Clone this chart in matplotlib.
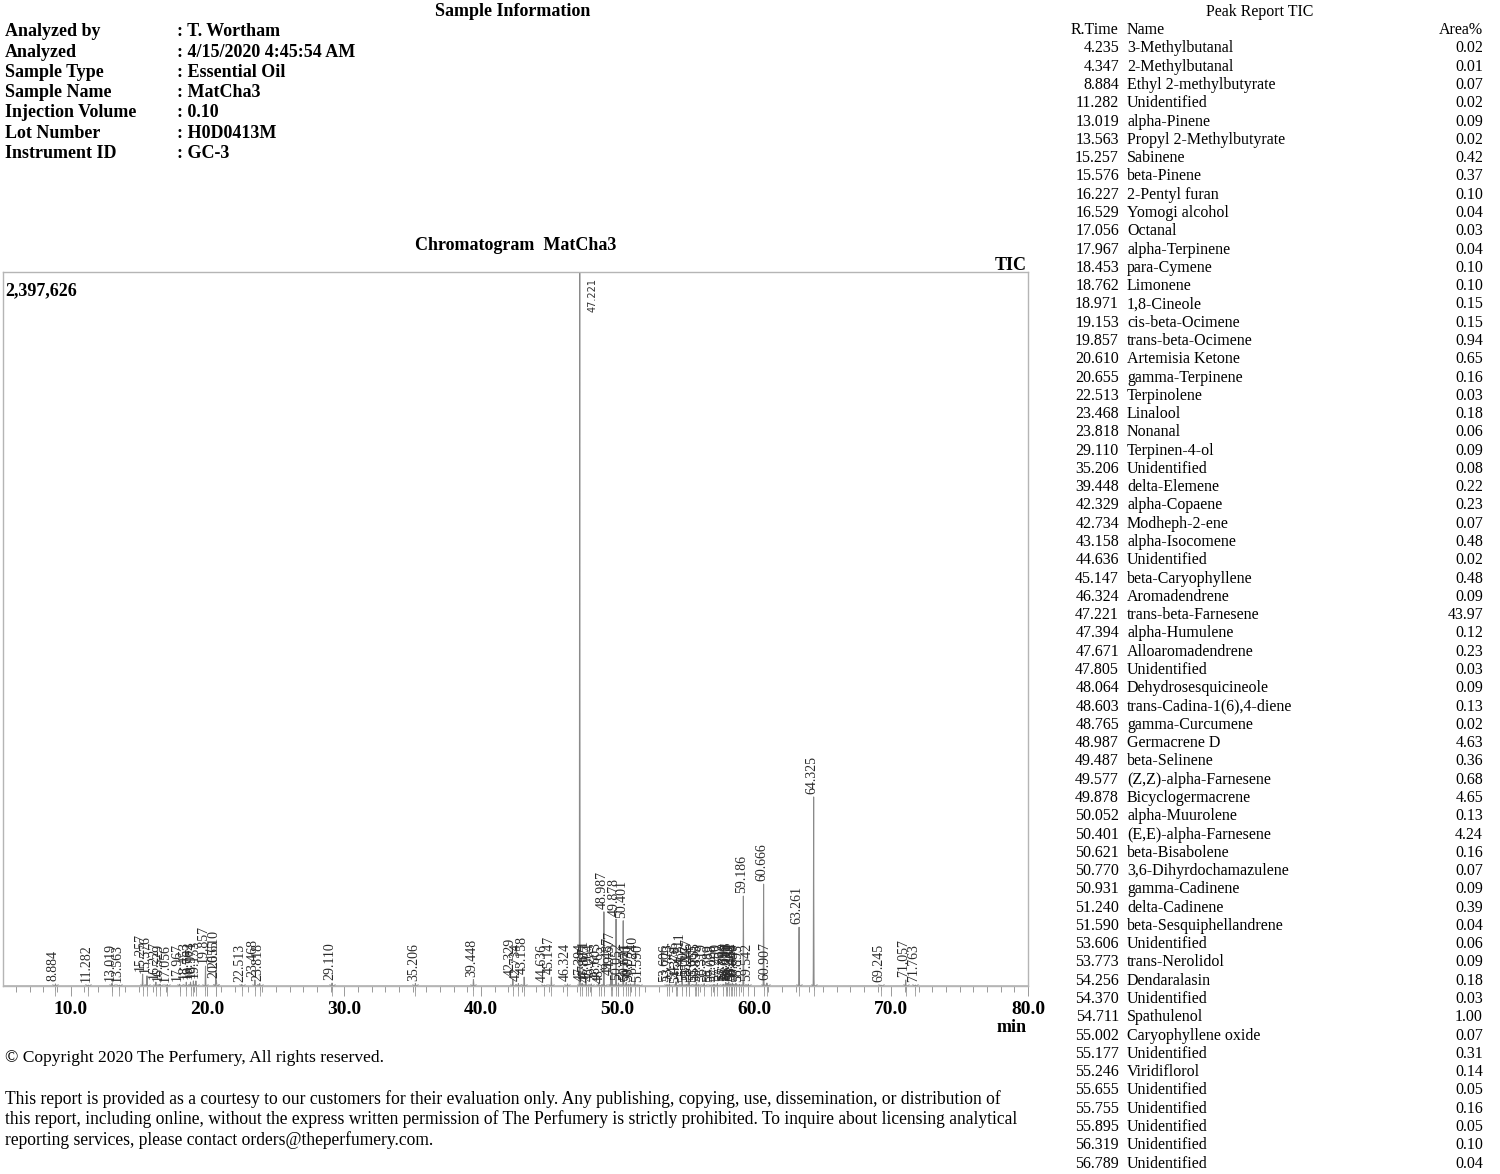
import numpy as np
import matplotlib
matplotlib.use("Agg")
import matplotlib.pyplot as plt

plt.rcParams['font.family'] = ['Liberation Serif', 'DejaVu Serif']

# ---------------- data ----------------
info_labels = ["Analyzed by", "Analyzed", "Sample Type", "Sample Name",
               "Injection Volume", "Lot Number", "Instrument ID"]
info_values = [": T. Wortham", ": 4/15/2020 4:45:54 AM", ": Essential Oil", ": MatCha3",
               ": 0.10", ": H0D0413M", ": GC-3"]

table_rt = ["4.235", "4.347", "8.884", "11.282", "13.019", "13.563", "15.257", "15.576",
            "16.227", "16.529", "17.056", "17.967", "18.453", "18.762", "18.971", "19.153",
            "19.857", "20.610", "20.655", "22.513", "23.468", "23.818", "29.110", "35.206",
            "39.448", "42.329", "42.734", "43.158", "44.636", "45.147", "46.324", "47.221",
            "47.394", "47.671", "47.805", "48.064", "48.603", "48.765", "48.987", "49.487",
            "49.577", "49.878", "50.052", "50.401", "50.621", "50.770", "50.931", "51.240",
            "51.590", "53.606", "53.773", "54.256", "54.370", "54.711", "55.002", "55.177",
            "55.246", "55.655", "55.755", "55.895", "56.319", "56.789"]
table_names = ["3-Methylbutanal", "2-Methylbutanal", "Ethyl 2-methylbutyrate", "Unidentified",
               "alpha-Pinene", "Propyl 2-Methylbutyrate", "Sabinene", "beta-Pinene",
               "2-Pentyl furan", "Yomogi alcohol", "Octanal", "alpha-Terpinene",
               "para-Cymene", "Limonene", "1,8-Cineole", "cis-beta-Ocimene",
               "trans-beta-Ocimene", "Artemisia Ketone", "gamma-Terpinene", "Terpinolene",
               "Linalool", "Nonanal", "Terpinen-4-ol", "Unidentified",
               "delta-Elemene", "alpha-Copaene", "Modheph-2-ene", "alpha-Isocomene",
               "Unidentified", "beta-Caryophyllene", "Aromadendrene", "trans-beta-Farnesene",
               "alpha-Humulene", "Alloaromadendrene", "Unidentified", "Dehydrosesquicineole",
               "trans-Cadina-1(6),4-diene", "gamma-Curcumene", "Germacrene D", "beta-Selinene",
               "(Z,Z)-alpha-Farnesene", "Bicyclogermacrene", "alpha-Muurolene", "(E,E)-alpha-Farnesene",
               "beta-Bisabolene", "3,6-Dihyrdochamazulene", "gamma-Cadinene", "delta-Cadinene",
               "beta-Sesquiphellandrene", "Unidentified", "trans-Nerolidol", "Dendaralasin",
               "Unidentified", "Spathulenol", "Caryophyllene oxide", "Unidentified",
               "Viridiflorol", "Unidentified", "Unidentified", "Unidentified",
               "Unidentified", "Unidentified"]
table_area = ["0.02", "0.01", "0.07", "0.02", "0.09", "0.02", "0.42", "0.37",
              "0.10", "0.04", "0.03", "0.04", "0.10", "0.10", "0.15", "0.15",
              "0.94", "0.65", "0.16", "0.03", "0.18", "0.06", "0.09", "0.08",
              "0.22", "0.23", "0.07", "0.48", "0.02", "0.48", "0.09", "43.97",
              "0.12", "0.23", "0.03", "0.09", "0.13", "0.02", "4.63", "0.36",
              "0.68", "4.65", "0.13", "4.24", "0.16", "0.07", "0.09", "0.39",
              "0.04", "0.06", "0.09", "0.18", "0.03", "1.00", "0.07", "0.31",
              "0.14", "0.05", "0.16", "0.05", "0.10", "0.04"]

# chromatogram peaks: retention time (min) and apex height (counts)
peak_rt = [8.884, 11.282, 13.019, 13.563, 15.257, 15.576, 16.227, 16.529, 17.056, 17.967,
           18.453, 18.762, 18.971, 19.153, 19.857, 20.610, 20.655, 22.513, 23.468, 23.818,
           29.110, 35.206, 39.448, 42.329, 42.734, 43.158, 44.636, 45.147, 46.324, 47.221,
           47.394, 47.671, 47.805, 48.064, 48.603, 48.765, 48.987, 49.487, 49.577, 49.878,
           50.052, 50.401, 50.621, 50.770, 50.931, 51.240, 51.590, 53.606, 53.773, 54.256,
           54.370, 54.711, 55.002, 55.177, 55.246, 55.655, 55.755, 55.895, 56.319, 56.789,
           57.028, 57.290, 57.702, 57.899, 58.010, 58.115, 58.251, 58.382, 58.468, 58.640,
           58.893, 59.186, 59.542, 60.666, 60.907, 63.261, 64.325, 69.245, 71.057, 71.763]
peak_height = [7000, 3000, 9000, 3000, 40000, 34000, 13000, 6000, 5000, 6000,
               13000, 13000, 17000, 17000, 67000, 52000, 17000, 5000, 20000, 8000,
               10000, 9000, 22000, 24000, 8000, 30000, 3000, 30000, 7000, 2600000,
               9000, 17000, 3000, 7000, 10000, 2000, 250000, 27000, 48000, 225000,
               10000, 220000, 12000, 5000, 7000, 30000, 3000, 4000, 7000, 14000,
               2000, 45000, 5000, 24000, 11000, 4000, 12000, 4000, 8000, 3000,
               5000, 8000, 6000, 12000, 9000, 14000, 7000, 10000, 6000, 9000,
               5000, 302000, 6000, 342000, 10000, 198000, 637000, 3000, 20000, 3000]
peak_label = ["%.3f" % r for r in peak_rt]

y_max = 2397626
x_min, x_max = 5.05, 80.0

# ---------------- figure ----------------
W, H = 1500, 1174
fig = plt.figure(figsize=(W / 100, H / 100), dpi=100)


def ftext(x, y, s, **kw):
    fig.text(x / W, 1 - y / H, s, **kw)


# header block
ftext(513, 12, "Sample Information", ha="center", va="center", fontsize=13, fontweight="bold")
for i, (lab, val) in enumerate(zip(info_labels, info_values)):
    y = 32 + i * 20.2
    ftext(5, y, lab, ha="left", va="center", fontsize=13, fontweight="bold")
    ftext(177, y, val, ha="left", va="center", fontsize=13, fontweight="bold")

ftext(516, 245, "Chromatogram  MatCha3", ha="center", va="center", fontsize=13, fontweight="bold")
ftext(1027, 265, "TIC", ha="right", va="center", fontsize=13, fontweight="bold")

# peak report table
ftext(1260, 12, "Peak Report TIC", ha="center", va="center", fontsize=11.5)
ftext(1071, 30.5, "R.Time", ha="left", va="center", fontsize=11.5)
ftext(1127, 30.5, "Name", ha="left", va="center", fontsize=11.5)
ftext(1483, 30.5, "Area%", ha="right", va="center", fontsize=11.5)
for i, (rt, nm, ar) in enumerate(zip(table_rt, table_names, table_area)):
    y = 48.5 + i * 18.28
    ftext(1119, y, rt, ha="right", va="center", fontsize=11.5)
    ftext(1127, y, nm, ha="left", va="center", fontsize=11.5)
    ftext(1483, y, ar, ha="right", va="center", fontsize=11.5)

# footer
ftext(5, 1058, "\u00a9 Copyright 2020 The Perfumery, All rights reserved.", ha="left", va="center", fontsize=12.6)
footer = ["This report is provided as a courtesy to our customers for their evaluation only. Any publishing, copying, use, dissemination, or distribution of",
          "this report, including online, without the express written permission of The Perfumery is strictly prohibited. To inquire about licensing analytical",
          "reporting services, please contact orders@theperfumery.com."]
for i, line in enumerate(footer):
    ftext(5, 1099 + i * 20.5, line, ha="left", va="center", fontsize=12.65)

# chromatogram axes
ax = fig.add_axes([3 / W, 1 - 986 / H, 1025 / W, 714 / H])
t = np.arange(x_min, x_max, 0.002)
sig = np.zeros_like(t)
for rt, h in zip(peak_rt, peak_height):
    sig += h * np.exp(-0.5 * ((t - rt) / 0.012) ** 2)
ax.plot(t, sig, color="#8a8a8a", lw=0.75)
ax.set_xlim(x_min, x_max)
ax.set_ylim(0, y_max)

for rt, h, lab in zip(peak_rt, peak_height, peak_label):
    if h >= y_max:
        ax.annotate(lab, xy=(rt, y_max), xytext=(9, -4), textcoords="offset points",
                    rotation=90, ha="center", va="top", fontsize=7, color="#333333",
                    family=["DejaVu Sans"])
    else:
        ax.annotate(lab, xy=(rt, h), xytext=(-1.5, 2), textcoords="offset points",
                    rotation=90, ha="center", va="bottom", fontsize=10, color="#2a2a2a")

# peak start/end markers at baseline
ax.plot(peak_rt, [0] * len(peak_rt), linestyle="none", marker="1", markersize=6,
        color="#8a8a8a", markeredgewidth=0.6, clip_on=False)
ax.plot(peak_rt, [0] * len(peak_rt), linestyle="none", marker=3, markersize=7,
        color="#9a9a9a", markeredgewidth=0.6, clip_on=False)

ax.set_xticks(np.arange(10, 81, 10))
ax.set_xticklabels(["%.1f" % v for v in np.arange(10, 81, 10)], fontsize=14, fontweight="bold")
ax.set_xticks(np.arange(6, 80, 1), minor=True)
ax.tick_params(axis="x", which="major", direction="out", length=7, width=0.7, color="#999999", pad=4)
ax.tick_params(axis="x", which="minor", direction="out", length=4, width=0.7, color="#999999")
ax.set_yticks([])
for s in ax.spines.values():
    s.set_color("#b5b5b5")
    s.set_linewidth(1.0)

ax.text(0.002, 0.985, "2,397,626", transform=ax.transAxes, ha="left", va="top",
        fontsize=13, fontweight="bold")
ftext(1012, 1027, "min", ha="center", va="center", fontsize=13, fontweight="bold")

fig.savefig("out.png", dpi=100)
